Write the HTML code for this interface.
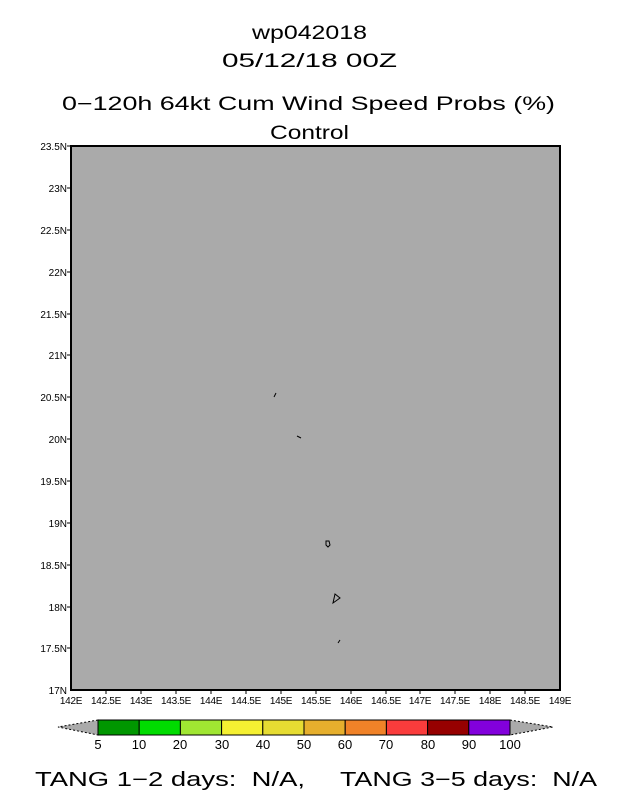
<!DOCTYPE html>
<html><head><meta charset="utf-8"><style>
body{margin:0;background:#fff;}
svg{display:block;}
text{font-family:"Liberation Sans","DejaVu Sans",sans-serif;fill:#000;}
</style></head><body>
<svg width="618" height="800" viewBox="0 0 618 800" xmlns="http://www.w3.org/2000/svg">
<text x="252" y="39" font-size="19" textLength="115" lengthAdjust="spacingAndGlyphs">wp042018</text>
<text x="222" y="67" font-size="19" textLength="175" lengthAdjust="spacingAndGlyphs">05/12/18 00Z</text>
<text x="62" y="110" font-size="19" textLength="493" lengthAdjust="spacingAndGlyphs">0−120h 64kt Cum Wind Speed Probs (%)</text>
<text x="270" y="139" font-size="19" textLength="79" lengthAdjust="spacingAndGlyphs">Control</text>
<rect x="71" y="146" width="489" height="544" fill="#aaaaaa" stroke="#000" stroke-width="2"/>
<g stroke="#000" stroke-width="1" fill="none">
<path d="M274 397 L276 393"/>
<path d="M297 436 L301 438"/>
<path d="M326 541 L329 541 L330 545 L328 547 L326 545 Z"/>
<path d="M333 603 L335 594 L340 598 Z"/>
<path d="M338 643 L340 640"/>
</g>
<g font-size="10" text-anchor="end">
<text x="67" y="150">23.5N</text><line x1="67" y1="146" x2="71" y2="146" stroke="#000"/>
<text x="67" y="192">23N</text><line x1="67" y1="188" x2="71" y2="188" stroke="#000"/>
<text x="67" y="234">22.5N</text><line x1="67" y1="230" x2="71" y2="230" stroke="#000"/>
<text x="67" y="276">22N</text><line x1="67" y1="272" x2="71" y2="272" stroke="#000"/>
<text x="67" y="318">21.5N</text><line x1="67" y1="314" x2="71" y2="314" stroke="#000"/>
<text x="67" y="359">21N</text><line x1="67" y1="355" x2="71" y2="355" stroke="#000"/>
<text x="67" y="401">20.5N</text><line x1="67" y1="397" x2="71" y2="397" stroke="#000"/>
<text x="67" y="443">20N</text><line x1="67" y1="439" x2="71" y2="439" stroke="#000"/>
<text x="67" y="485">19.5N</text><line x1="67" y1="481" x2="71" y2="481" stroke="#000"/>
<text x="67" y="527">19N</text><line x1="67" y1="523" x2="71" y2="523" stroke="#000"/>
<text x="67" y="569">18.5N</text><line x1="67" y1="565" x2="71" y2="565" stroke="#000"/>
<text x="67" y="611">18N</text><line x1="67" y1="607" x2="71" y2="607" stroke="#000"/>
<text x="67" y="652">17.5N</text><line x1="67" y1="648" x2="71" y2="648" stroke="#000"/>
<text x="67" y="694">17N</text>
</g>
<g font-size="10" text-anchor="middle" letter-spacing="-0.3">
<text x="71" y="704">142E</text><text x="106" y="704">142.5E</text><text x="141" y="704">143E</text><text x="176" y="704">143.5E</text><text x="211" y="704">144E</text><text x="246" y="704">144.5E</text><text x="281" y="704">145E</text><text x="316" y="704">145.5E</text><text x="351" y="704">146E</text><text x="386" y="704">146.5E</text><text x="420" y="704">147E</text><text x="455" y="704">147.5E</text><text x="490" y="704">148E</text><text x="525" y="704">148.5E</text><text x="560" y="704">149E</text>
</g>
<g stroke="#000" stroke-width="1">
<line x1="106" y1="690" x2="106" y2="694"/><line x1="141" y1="690" x2="141" y2="694"/><line x1="176" y1="690" x2="176" y2="694"/><line x1="211" y1="690" x2="211" y2="694"/><line x1="246" y1="690" x2="246" y2="694"/><line x1="281" y1="690" x2="281" y2="694"/><line x1="316" y1="690" x2="316" y2="694"/><line x1="351" y1="690" x2="351" y2="694"/><line x1="386" y1="690" x2="386" y2="694"/><line x1="420" y1="690" x2="420" y2="694"/><line x1="455" y1="690" x2="455" y2="694"/><line x1="490" y1="690" x2="490" y2="694"/><line x1="525" y1="690" x2="525" y2="694"/>
</g>
<polygon points="98,720 58,727 98,735" fill="#aaaaaa" stroke="#000" stroke-dasharray="2,2"/>
<polygon points="510,720 553,727 510,735" fill="#aaaaaa" stroke="#000" stroke-dasharray="2,2"/>
<g stroke="#000" stroke-width="1">
<rect x="98" y="720" width="41.2" height="15" fill="#009600"/>
<rect x="139.2" y="720" width="41.2" height="15" fill="#00dc00"/>
<rect x="180.4" y="720" width="41.2" height="15" fill="#a0e632"/>
<rect x="221.6" y="720" width="41.2" height="15" fill="#f5f032"/>
<rect x="262.8" y="720" width="41.2" height="15" fill="#e6dc32"/>
<rect x="304" y="720" width="41.2" height="15" fill="#e6af2d"/>
<rect x="345.2" y="720" width="41.2" height="15" fill="#f08228"/>
<rect x="386.4" y="720" width="41.2" height="15" fill="#fa3c3c"/>
<rect x="427.6" y="720" width="41.2" height="15" fill="#960000"/>
<rect x="468.8" y="720" width="41.2" height="15" fill="#8200dc"/>
</g>
<g font-size="13" text-anchor="middle">
<text x="98" y="749">5</text><text x="139" y="749">10</text><text x="180" y="749">20</text><text x="222" y="749">30</text><text x="263" y="749">40</text><text x="304" y="749">50</text><text x="345" y="749">60</text><text x="386" y="749">70</text><text x="428" y="749">80</text><text x="469" y="749">90</text><text x="510" y="749">100</text>
</g>
<text x="35" y="786" font-size="20" xml:space="preserve" textLength="270" lengthAdjust="spacingAndGlyphs">TANG 1−2 days:  N/A,</text>
<text x="340" y="786" font-size="20" xml:space="preserve" textLength="257" lengthAdjust="spacingAndGlyphs">TANG 3−5 days:  N/A</text>
</svg>
</body></html>
